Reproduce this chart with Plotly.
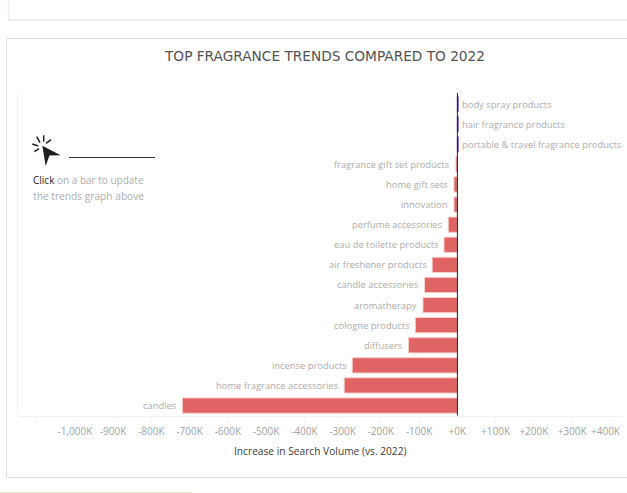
import plotly.graph_objects as go

W, H = 627, 493

# Change in search volume against 2022, thousands of searches
categories = [
    "body spray products", "hair fragrance products",
    "portable & travel fragrance products", "fragrance gift set products",
    "home gift sets", "innovation", "perfume accessories",
    "eau de toilette products", "air freshener products", "candle accessories",
    "aromatherapy", "cologne products", "diffusers", "incense products",
    "home fragrance accessories", "candles",
]
change_k = [2, 2, 2, -4, -9, -9, -24, -35, -66, -86, -90, -110, -128, -275, -296, -719]

tick_values = [-1100, -1000, -900, -800, -700, -600, -500, -400, -300, -200, -100, 0, 100, 200, 300, 400]
tick_labels = ["", "-1,000K", "-900K", "-800K", "-700K", "-600K", "-500K", "-400K", "-300K",
               "-200K", "-100K", "+0K", "+100K", "+200K", "+300K", ""]
last_tick_label = "+400K"

LABEL_FONT = "Open Sans"
RED, PURPLE = "#e06464", "#6a3cc4"
GREY_TEXT, FAINT = "#adadad", "#f1f1f1"
TICK_GREY = "#a2a2a2"


def px(x):
    return x / W


def py(y):
    return 1 - y / H


def line(x0, y0, x1, y1, color, width):
    return dict(type="line", xref="paper", yref="paper", x0=px(x0), x1=px(x1),
                y0=py(y0), y1=py(y1), line=dict(color=color, width=width), layer="above")


def rect(x0, y0, x1, y1, color):
    return dict(type="rect", xref="paper", yref="paper", x0=px(x0), x1=px(x1),
                y0=py(y0), y1=py(y1), fillcolor=color, line=dict(width=0), layer="below")


def text(x, y, s, size, color, font=LABEL_FONT, anchor="left"):
    return dict(xref="paper", yref="paper", x=px(x), y=py(y), text=s, showarrow=False,
                xanchor=anchor, yanchor="middle", align=anchor,
                font=dict(family=font, size=size, color=color))


fig = go.Figure(go.Bar(
    x=change_k,
    y=categories,
    orientation="h",
    width=0.76,
    marker=dict(
        color=[RED if v < 0 else PURPLE for v in change_k],
        line=dict(color=["#f6cfcf" if v < 0 else PURPLE for v in change_k], width=1),
    ),
    hoverinfo="skip",
))

# Category names sit just beyond the end of each bar
annotations = [
    dict(x=v, y=c, xref="x", yref="y", text=c, showarrow=False,
         xanchor="right" if v < 0 else "left", yanchor="middle",
         xshift=-3.5 if v < 0 else 2,
         font=dict(family=LABEL_FONT, size=9.4, color=GREY_TEXT))
    for c, v in zip(categories, change_k)
]

annotations += [
    # the last tick label is nudged inward so it stays within the frame
    dict(x=tick_values[-1], xref="x", y=py(431), yref="paper", text=last_tick_label,
         showarrow=False, xanchor="center", yanchor="middle", xshift=-4,
         font=dict(family=LABEL_FONT, size=10, color=TICK_GREY)),
    text(324.5, 56, "TOP FRAGRANCE TRENDS COMPARED TO 2022", 13.7, "#525252", "DejaVu Sans", "center"),
    text(320, 451, "Increase in Search Volume (vs. 2022)", 10.2, "#3c3c3c", LABEL_FONT, "center"),
    text(30.5, 180, '<span style="color:#222222">Click</span> on a bar to update', 10, GREY_TEXT),
    text(30.5, 195.5, "the trends graph above", 10.2, GREY_TEXT),
]

# Pointer icon with its click rays
arrow = [(42.3, 145.7), (60.7, 155.3), (49.5, 155.5), (45.7, 166)]
arrow_path = "M " + " L ".join(f"{px(x):.4f},{py(y):.4f}" for x, y in arrow) + " Z"
rays = [((32.3, 144), (38.3, 146)), ((34.3, 151.7), (39, 148.7)), ((36.7, 136.7), (40, 142.7)),
        ((43.7, 135.3), (43.7, 141.7)), ((51, 139.7), (46, 143.3))]

shapes = [
    # panel outlines running off the right edge
    line(8.5, 0, 8.5, 20, "#ececec", 1.5),
    line(8.5, 20, W, 20, "#ececec", 2),
    line(6.5, 38.5, W, 38.5, "#dcdcdc", 1),
    line(6.5, 38.5, 6.5, 477.5, "#dcdcdc", 1),
    line(6.5, 477.5, W, 477.5, "#dcdcdc", 1),
    # strip along the bottom edge
    rect(0, 492, 192, H, "#e3f3cc"),
    rect(192, 492, W, H, "#f8fbf0"),
    # chart frame and zero line
    line(17.5, 93, 17.5, 415.5, FAINT, 1),
    dict(type="line", xref="x", yref="paper", x0=0, x1=0, y0=py(93), y1=py(415.5),
         line=dict(color="#222222", width=1), layer="above"),
    # pointer
    dict(type="path", xref="paper", yref="paper", path=arrow_path,
         fillcolor="#1f1f1f", line=dict(width=0), layer="above"),
    line(69, 157.5, 155, 157.5, "#333333", 1),
]
shapes += [line(a[0], a[1], b[0], b[1], "#1f1f1f", 1.5) for a, b in rays]

fig.update_layout(
    width=W,
    height=H,
    margin=dict(l=0, r=0, t=0, b=0),
    paper_bgcolor="white",
    plot_bgcolor="white",
    showlegend=False,
    annotations=annotations,
    shapes=shapes,
    xaxis=dict(
        domain=[px(17.5), px(623)],
        range=[(17.5 - 457.4) / 0.3825, (623 - 457.4) / 0.3825],
        tickvals=tick_values,
        ticktext=tick_labels,
        ticks="outside",
        ticklen=3,
        tickcolor=FAINT,
        tickfont=dict(family=LABEL_FONT, size=10, color=TICK_GREY),
        ticklabelstandoff=3,
        showgrid=False,
        zeroline=False,
        showline=True,
        linecolor=FAINT,
        linewidth=1,
        anchor="y",
    ),
    yaxis=dict(
        domain=[py(415.6), py(94)],
        categoryorder="array",
        categoryarray=categories,
        autorange=False,
        range=[len(categories) - 0.5, -0.5],
        showticklabels=False,
        showgrid=False,
        zeroline=False,
        ticks="",
    ),
)

fig.write_html("out.html", config=dict(displayModeBar=False))
